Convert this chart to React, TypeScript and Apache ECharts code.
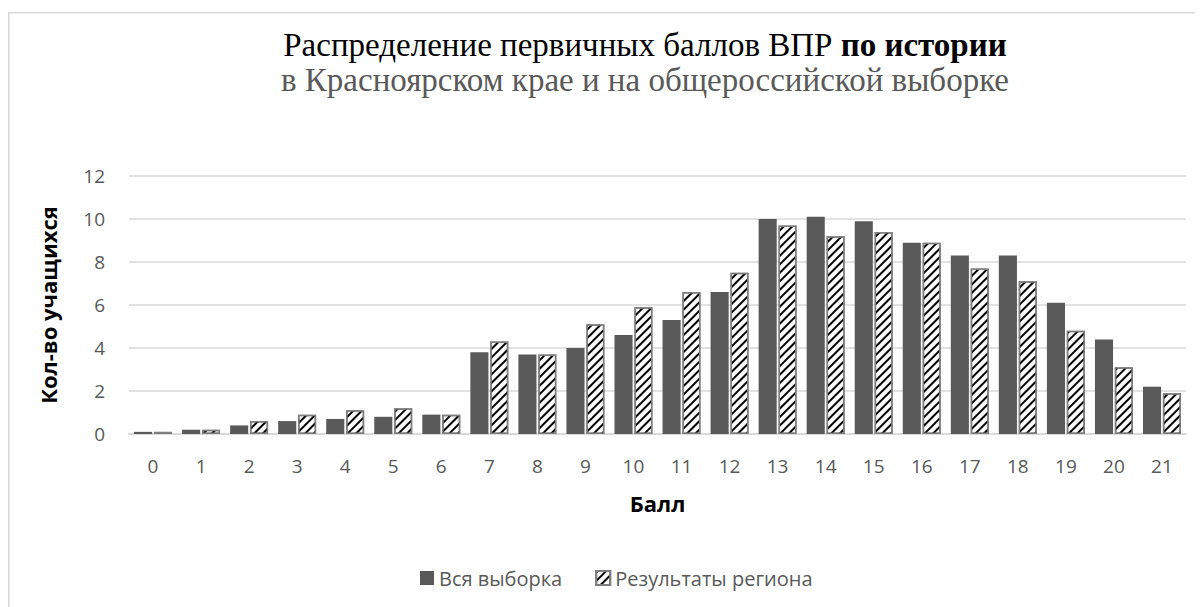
import React, { useEffect, useRef } from "react";
import * as echarts from "echarts";

const categories = ["0","1","2","3","4","5","6","7","8","9","10","11","12","13","14","15","16","17","18","19","20","21"];
const allSample = [0.1, 0.2, 0.4, 0.6, 0.7, 0.8, 0.9, 3.8, 3.7, 4.0, 4.6, 5.3, 6.6, 10.0, 10.1, 9.9, 8.9, 8.3, 8.3, 6.1, 4.4, 2.2];
const regionResults = [0.1, 0.2, 0.6, 0.9, 1.1, 1.2, 0.9, 4.3, 3.7, 5.1, 5.9, 6.6, 7.5, 9.7, 9.2, 9.4, 8.9, 7.7, 7.1, 4.8, 3.1, 1.9];
const seriesNames = ["Вся выборка", "Результаты региона"];
const titleMain = "Распределение первичных баллов ВПР ";
const titleBold = "по истории";
const titleSub = "в Красноярском крае и на общероссийской выборке";
const yName = "Кол-во учащихся";
const xName = "Балл";
const cutText = "Диаграмма";

const SANS = "'Open Sans', Lato, sans-serif";
const SERIF = "'Liberation Serif', 'Times New Roman', serif";

export default function App() {
  const ref = useRef<HTMLDivElement>(null);
  useEffect(() => {
    if (!ref.current) return;
    const chart = echarts.init(ref.current, null, { renderer: "svg" });
    chart.setOption({
      animation: false,
      backgroundColor: "#ffffff",
      graphic: [
        {
          type: "rect",
          shape: { x: 0.75, y: 4.75, width: 3000, height: 3000 },
          style: { fill: "none", stroke: "#d9d9d9", lineWidth: 1.5 },
          silent: true,
          z: -1,
        },
        {
          type: "text",
          x: 1015,
          y: -18,
          style: { text: cutText, font: "30px " + SERIF, fill: "#000", verticalAlign: "middle", align: "left" },
          silent: true,
        },
        {
          type: "text",
          x: 637,
          y: 37,
          style: {
            text: "{n|" + titleMain + "}{b|" + titleBold + "}",
            align: "center",
            verticalAlign: "middle",
            rich: {
              n: { fontFamily: SERIF, fontSize: 33, fill: "#000" },
              b: { fontFamily: SERIF, fontSize: 33, fontWeight: "bold", fill: "#000" },
            },
          },
          silent: true,
        },
        {
          type: "text",
          x: 637,
          y: 72,
          style: {
            text: titleSub,
            align: "center",
            verticalAlign: "middle",
            font: "33px " + SERIF,
            fill: "#595959",
          },
          silent: true,
        },
      ],
      legend: {
        left: 407,
        top: 555,
        itemWidth: 14,
        itemHeight: 14,
        itemGap: 33,
        icon: "rect",
        textStyle: { fontFamily: SANS, fontSize: 20, color: "#595959" },
        data: seriesNames,
      },
      grid: { left: 121, right: 17, top: 168, bottom: 173, containLabel: false },
      xAxis: {
        type: "category",
        data: categories,
        axisTick: { show: false },
        axisLine: { lineStyle: { color: "#d9d9d9", width: 2 } },
        axisLabel: { color: "#595959", fontFamily: SANS, fontSize: 19, margin: 22 },
        name: xName,
        nameLocation: "middle",
        nameGap: 58,
        nameTextStyle: { fontFamily: SANS, fontSize: 22, fontWeight: "bold", color: "#000" },
      },
      yAxis: {
        type: "value",
        min: 0,
        max: 12,
        interval: 2,
        axisLine: { show: false },
        axisTick: { show: false },
        splitLine: { lineStyle: { color: "#d9d9d9", width: 1.5 } },
        axisLabel: { color: "#595959", fontFamily: SANS, fontSize: 19, margin: 24 },
        name: yName,
        nameLocation: "middle",
        nameGap: 70,
        nameTextStyle: { fontFamily: SANS, fontSize: 22, fontWeight: "bold", color: "#000" },
      },
      series: [
        {
          name: seriesNames[0],
          type: "bar",
          data: allSample,
          barCategoryGap: "21%",
          barGap: "10%",
          itemStyle: { color: "#595959" },
        },
        {
          name: seriesNames[1],
          type: "bar",
          data: regionResults,
          itemStyle: {
            color: "#ffffff",
            borderColor: "#7f7f7f",
            borderWidth: 1.5,
            decal: {
              symbol: "rect",
              symbolSize: 1,
              color: "#000000",
              dashArrayX: [1, 0],
              dashArrayY: [1.5, 3.5],
              rotation: -Math.PI / 4,
            },
          },
        },
      ],
    });
    return () => chart.dispose();
  }, []);
  return <div ref={ref} style={{ width: 1195, height: 599 }} />;
}
